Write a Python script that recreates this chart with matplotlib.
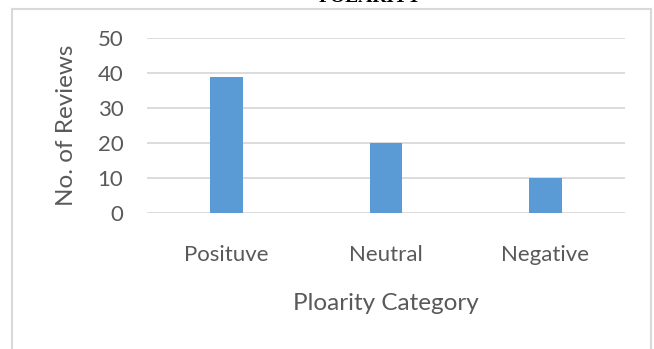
import numpy as np
from matplotlib import pyplot as plt
from matplotlib.lines import Line2D

categories = ['Posituve', 'Neutral', 'Negative']
reviews = [39, 20, 10]
yticks = [0, 10, 20, 30, 40, 50]

plt.rcParams['font.family'] = ['Lato', 'DejaVu Sans']
W, H = 654, 349
fig = plt.figure(figsize=(W/100, H/100), dpi=100)
ax = fig.add_axes([147/W, 1-213/H, (625-147)/W, (213-38)/H])

x = np.arange(len(categories))
ax.bar(x, reviews, width=0.205, color='#5b9bd5', zorder=3)
ax.set_xlim(-0.5, 2.5)
ax.set_ylim(0, 50)
ax.set_yticks(yticks)
ax.set_xticks(x)
ax.set_xticklabels(categories)
ax.yaxis.grid(True, color='#d9d9d9', lw=1.3, zorder=0)
for s in ax.spines.values():
    s.set_visible(False)
ax.tick_params(axis='both', length=0, colors='#595959', labelsize=16)
ax.tick_params(axis='y', pad=17)
ax.tick_params(axis='x', pad=23)
ax.set_ylabel('No. of Reviews', fontsize=17.5, color='#595959', labelpad=15)
ax.set_xlabel('Ploarity Category', fontsize=17.5, color='#595959', labelpad=20)

# outer chart border
bc = '#d9d9d9'
fig.add_artist(Line2D([12/W, 12/W], [0, 1-9/H], color=bc, lw=1.5))
fig.add_artist(Line2D([12/W, 651/W], [1-9/H, 1-9/H], color=bc, lw=1.5))
fig.add_artist(Line2D([651/W, 651/W], [0, 1-9/H], color=bc, lw=1.5))

fig.text(370/W, 1-2/H, 'POLARITY', ha='center', va='baseline',
         family='Liberation Serif', fontweight='bold', fontsize=14)

fig.savefig('out.png', dpi=100)
